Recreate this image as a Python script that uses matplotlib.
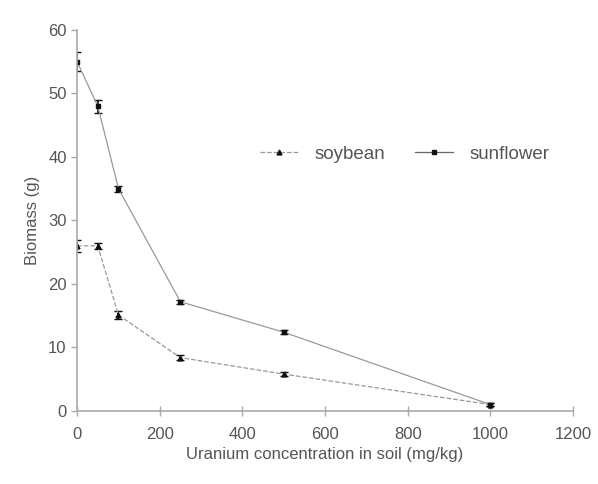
import matplotlib
matplotlib.use("Agg")
import matplotlib.pyplot as plt
from matplotlib.lines import Line2D

plt.rcParams['font.family'] = ['Liberation Sans', 'DejaVu Sans']

# data
conc = [0, 50, 100, 250, 500, 1000]
sunflower = [55, 48, 35, 17.2, 12.4, 1.0]
sunflower_err = [1.5, 1.0, 0.5, 0.3, 0.3, 0.3]
soybean = [26, 26, 15.1, 8.4, 5.8, 1.0]
soybean_err = [1.0, 0.5, 0.6, 0.4, 0.3, 0.3]

line_col = '#999999'
mark_col = '#111111'

fig = plt.figure(figsize=(5.98, 4.84), dpi=100)
ax = fig.add_axes([0.129, 0.151, 0.829, 0.787])

ax.errorbar(conc, soybean, yerr=soybean_err, color=line_col, linestyle='--',
            linewidth=0.9, marker='^', markersize=3.5, markerfacecolor=mark_col,
            markeredgecolor=mark_col, ecolor=mark_col, elinewidth=1.2, capsize=3)
ax.errorbar(conc, sunflower, yerr=sunflower_err, color=line_col, linestyle='-',
            linewidth=0.9, marker='s', markersize=3.5, markerfacecolor=mark_col,
            markeredgecolor=mark_col, ecolor=mark_col, elinewidth=1.2, capsize=3)

ax.set_xlim(0, 1200)
ax.set_ylim(0, 60)
ax.set_xticks(range(0, 1201, 200))
ax.set_yticks(range(0, 61, 10))

for s in ['top', 'right']:
    ax.spines[s].set_visible(False)
for s in ['left', 'bottom']:
    ax.spines[s].set_color('#aaaaaa')
    ax.spines[s].set_linewidth(1.2)

ax.tick_params(axis='both', colors='#aaaaaa', labelcolor='#555555', labelsize=12,
               length=4, width=1)
ax.tick_params(axis='x', direction='inout', length=7, pad=8)

ax.set_xlabel('Uranium concentration in soil (mg/kg)', fontsize=12, color='#555555',
              labelpad=4)
ax.set_ylabel('Biomass (g)', fontsize=12, color='#555555', labelpad=6)

handles = [
    Line2D([], [], color=line_col, linestyle='--', linewidth=0.9, marker='^',
           markersize=3.5, markerfacecolor=mark_col, markeredgecolor=mark_col),
    Line2D([], [], color='#666666', linestyle='-', linewidth=0.9, marker='s',
           markersize=3.5, markerfacecolor=mark_col, markeredgecolor=mark_col),
]
leg = ax.legend(handles, ['soybean', 'sunflower'], loc='upper left',
                bbox_to_anchor=(0.335, 0.74), ncol=2, frameon=False,
                fontsize=13.5, handlelength=2.0, columnspacing=1.6, handletextpad=0.9)
for t in leg.get_texts():
    t.set_color('#555555')

fig.savefig('out.png', dpi=100)
